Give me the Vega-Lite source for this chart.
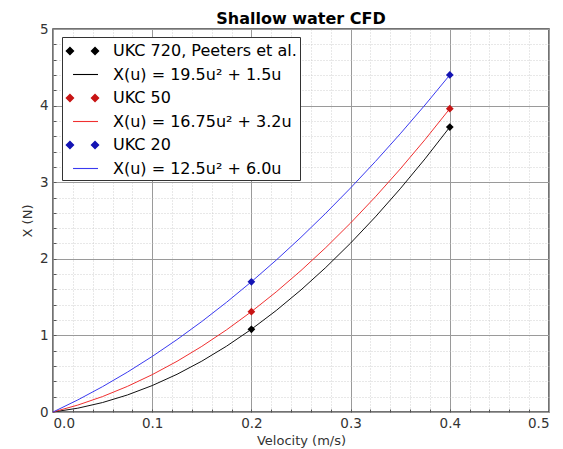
{
  "$schema": "https://vega.github.io/schema/vega-lite/v6.json",
  "width": 496,
  "height": 383,
  "autosize": "none",
  "padding": {"left": 53, "top": 29, "right": 14, "bottom": 37},
  "title": {"text": "Shallow water CFD", "fontSize": 16, "fontWeight": "bold", "font": "DejaVu Sans", "color": "#000", "offset": -5},
  "config": {
    "view": {"stroke": "#444", "strokeWidth": 1.5},
    "font": "DejaVu Sans"
  },
  "datasets": {
    "curves": [
      {"u": 0, "X": 0, "s": "X(u) = 19.5u² + 1.5u"},
      {"u": 0.025, "X": 0.0497, "s": "X(u) = 19.5u² + 1.5u"},
      {"u": 0.05, "X": 0.1238, "s": "X(u) = 19.5u² + 1.5u"},
      {"u": 0.075, "X": 0.2222, "s": "X(u) = 19.5u² + 1.5u"},
      {"u": 0.1, "X": 0.345, "s": "X(u) = 19.5u² + 1.5u"},
      {"u": 0.125, "X": 0.4922, "s": "X(u) = 19.5u² + 1.5u"},
      {"u": 0.15, "X": 0.6638, "s": "X(u) = 19.5u² + 1.5u"},
      {"u": 0.175, "X": 0.8597, "s": "X(u) = 19.5u² + 1.5u"},
      {"u": 0.2, "X": 1.08, "s": "X(u) = 19.5u² + 1.5u"},
      {"u": 0.225, "X": 1.3247, "s": "X(u) = 19.5u² + 1.5u"},
      {"u": 0.25, "X": 1.5938, "s": "X(u) = 19.5u² + 1.5u"},
      {"u": 0.275, "X": 1.8872, "s": "X(u) = 19.5u² + 1.5u"},
      {"u": 0.3, "X": 2.205, "s": "X(u) = 19.5u² + 1.5u"},
      {"u": 0.325, "X": 2.5472, "s": "X(u) = 19.5u² + 1.5u"},
      {"u": 0.35, "X": 2.9138, "s": "X(u) = 19.5u² + 1.5u"},
      {"u": 0.375, "X": 3.3047, "s": "X(u) = 19.5u² + 1.5u"},
      {"u": 0.4, "X": 3.72, "s": "X(u) = 19.5u² + 1.5u"},
      {"u": 0, "X": 0, "s": "X(u) = 16.75u² + 3.2u"},
      {"u": 0.025, "X": 0.0905, "s": "X(u) = 16.75u² + 3.2u"},
      {"u": 0.05, "X": 0.2019, "s": "X(u) = 16.75u² + 3.2u"},
      {"u": 0.075, "X": 0.3342, "s": "X(u) = 16.75u² + 3.2u"},
      {"u": 0.1, "X": 0.4875, "s": "X(u) = 16.75u² + 3.2u"},
      {"u": 0.125, "X": 0.6617, "s": "X(u) = 16.75u² + 3.2u"},
      {"u": 0.15, "X": 0.8569, "s": "X(u) = 16.75u² + 3.2u"},
      {"u": 0.175, "X": 1.073, "s": "X(u) = 16.75u² + 3.2u"},
      {"u": 0.2, "X": 1.31, "s": "X(u) = 16.75u² + 3.2u"},
      {"u": 0.225, "X": 1.568, "s": "X(u) = 16.75u² + 3.2u"},
      {"u": 0.25, "X": 1.8469, "s": "X(u) = 16.75u² + 3.2u"},
      {"u": 0.275, "X": 2.1467, "s": "X(u) = 16.75u² + 3.2u"},
      {"u": 0.3, "X": 2.4675, "s": "X(u) = 16.75u² + 3.2u"},
      {"u": 0.325, "X": 2.8092, "s": "X(u) = 16.75u² + 3.2u"},
      {"u": 0.35, "X": 3.1719, "s": "X(u) = 16.75u² + 3.2u"},
      {"u": 0.375, "X": 3.5555, "s": "X(u) = 16.75u² + 3.2u"},
      {"u": 0.4, "X": 3.96, "s": "X(u) = 16.75u² + 3.2u"},
      {"u": 0, "X": 0, "s": "X(u) = 12.5u² + 6.0u"},
      {"u": 0.025, "X": 0.1578, "s": "X(u) = 12.5u² + 6.0u"},
      {"u": 0.05, "X": 0.3313, "s": "X(u) = 12.5u² + 6.0u"},
      {"u": 0.075, "X": 0.5203, "s": "X(u) = 12.5u² + 6.0u"},
      {"u": 0.1, "X": 0.725, "s": "X(u) = 12.5u² + 6.0u"},
      {"u": 0.125, "X": 0.9453, "s": "X(u) = 12.5u² + 6.0u"},
      {"u": 0.15, "X": 1.1813, "s": "X(u) = 12.5u² + 6.0u"},
      {"u": 0.175, "X": 1.4328, "s": "X(u) = 12.5u² + 6.0u"},
      {"u": 0.2, "X": 1.7, "s": "X(u) = 12.5u² + 6.0u"},
      {"u": 0.225, "X": 1.9828, "s": "X(u) = 12.5u² + 6.0u"},
      {"u": 0.25, "X": 2.2813, "s": "X(u) = 12.5u² + 6.0u"},
      {"u": 0.275, "X": 2.5953, "s": "X(u) = 12.5u² + 6.0u"},
      {"u": 0.3, "X": 2.925, "s": "X(u) = 12.5u² + 6.0u"},
      {"u": 0.325, "X": 3.2703, "s": "X(u) = 12.5u² + 6.0u"},
      {"u": 0.35, "X": 3.6313, "s": "X(u) = 12.5u² + 6.0u"},
      {"u": 0.375, "X": 4.0078, "s": "X(u) = 12.5u² + 6.0u"},
      {"u": 0.4, "X": 4.4, "s": "X(u) = 12.5u² + 6.0u"}
    ],
    "points": [
      {"u": 0.2, "X": 1.08, "s": "UKC 720, Peeters et al."},
      {"u": 0.4, "X": 3.72, "s": "UKC 720, Peeters et al."},
      {"u": 0.2, "X": 1.31, "s": "UKC 50"},
      {"u": 0.4, "X": 3.96, "s": "UKC 50"},
      {"u": 0.2, "X": 1.7, "s": "UKC 20"},
      {"u": 0.4, "X": 4.4, "s": "UKC 20"}
    ]
  },
  "resolve": {"axis": {"x": "independent", "y": "independent"}},
  "layer": [
    {
      "data": {"name": "curves"},
      "mark": {"type": "point", "opacity": 0},
      "encoding": {
        "x": {"field": "u", "type": "quantitative", "scale": {"domain": [0, 0.5], "nice": false, "zero": false},
          "axis": {"orient": "bottom", "values": [0.02,0.04,0.06,0.08,0.1,0.12,0.14,0.16,0.18,0.2,0.22,0.24,0.26,0.28,0.3,0.32,0.34,0.36,0.38,0.4,0.42,0.44,0.46,0.48],
            "labels": false, "ticks": true, "tickSize": -3, "tickColor": "#555", "domain": false, "title": null,
            "grid": true, "gridColor": "#c4c4c4", "gridDash": [1, 2], "gridWidth": 0.8}},
        "y": {"field": "X", "type": "quantitative", "scale": {"domain": [0, 5], "nice": false, "zero": false},
          "axis": {"orient": "left", "values": [0.2,0.4,0.6,0.8,1,1.2,1.4,1.6,1.8,2,2.2,2.4,2.6,2.8,3,3.2,3.4,3.6,3.8,4,4.2,4.4,4.6,4.8],
            "labels": false, "ticks": true, "tickSize": -3, "tickColor": "#555", "domain": false, "title": null,
            "grid": true, "gridColor": "#c4c4c4", "gridDash": [1, 2], "gridWidth": 0.8}}
      }
    },
    {
      "data": {"name": "curves"},
      "mark": {"type": "line", "strokeWidth": 1},
      "encoding": {
        "x": {"field": "u", "type": "quantitative",
          "axis": {"orient": "bottom", "values": [0, 0.1, 0.2, 0.3, 0.4, 0.5], "format": ".1f",
            "labelFontSize": 13.5, "labelColor": "#333", "ticks": false, "labelPadding": 4,
            "domain": false, "grid": true, "gridColor": "#9a9a9a", "gridWidth": 1,
            "title": "Velocity (m/s)", "titleFontSize": 13, "titleFontWeight": "normal", "titleColor": "#333", "titlePadding": 5}},
        "y": {"field": "X", "type": "quantitative",
          "axis": {"orient": "left", "values": [0, 1, 2, 3, 4, 5], "format": "d",
            "labelFontSize": 13.5, "labelColor": "#333", "ticks": false, "labelPadding": 5,
            "domain": false, "grid": true, "gridColor": "#9a9a9a", "gridWidth": 1,
            "title": "X (N)", "titleFontSize": 13, "titleFontWeight": "normal", "titleColor": "#333", "titlePadding": 5}},
        "stroke": {"field": "s", "type": "nominal", "legend": null,
          "scale": {"domain": ["X(u) = 19.5u² + 1.5u", "X(u) = 16.75u² + 3.2u", "X(u) = 12.5u² + 6.0u"],
            "range": ["#111111", "#f03030", "#3a3af0"]}},
        "detail": {"field": "s"}
      }
    },
    {
      "data": {"name": "points"},
      "mark": {"type": "point", "shape": "diamond", "filled": true, "size": 60, "opacity": 1},
      "encoding": {
        "x": {"field": "u", "type": "quantitative", "axis": null},
        "y": {"field": "X", "type": "quantitative", "axis": null},
        "color": {"field": "s", "type": "nominal", "legend": null,
          "scale": {"domain": ["UKC 720, Peeters et al.", "UKC 50", "UKC 20"],
            "range": ["#000000", "#c81414", "#1414b4"]}}
      }
    },
    {
      "data": {"name": "points"},
      "mark": {"type": "point", "filled": true, "opacity": 0},
      "encoding": {
        "x": {"field": "u", "type": "quantitative", "axis": null},
        "y": {"field": "X", "type": "quantitative", "axis": null},
        "fill": {"field": "s", "type": "nominal",
          "scale": {"domain": ["UKC 720, Peeters et al.", "X(u) = 19.5u² + 1.5u", "UKC 50", "X(u) = 16.75u² + 3.2u", "UKC 20", "X(u) = 12.5u² + 6.0u"],
            "range": ["#000000", "#000000", "#c81414", "#f03030", "#1414b4", "#3a3af0"]},
          "legend": {"orient": "none", "legendX": 9, "legendY": 8, "title": null, "padding": 3,
            "strokeColor": "#333", "fillColor": "#ffffff", "labelFontSize": 16, "labelFont": "DejaVu Sans", "labelLimit": 300,
            "labelColor": "#000", "symbolSize": 484, "rowPadding": 4.5, "labelOffset": 26, "symbolStrokeWidth": 0, "symbolOpacity": 1,
            "encode": {"symbols": {"update": {"opacity": {"value": 1}, "fillOpacity": {"value": 1}}}}}},
        "shape": {"field": "s", "type": "nominal",
          "scale": {"domain": ["UKC 720, Peeters et al.", "X(u) = 19.5u² + 1.5u", "UKC 50", "X(u) = 16.75u² + 3.2u", "UKC 20", "X(u) = 12.5u² + 6.0u"],
            "range": [
              "M-0.96,0L-0.55,-0.41L-0.14,0L-0.55,0.41Z M1.32,0L1.73,-0.41L2.14,0L1.73,0.41Z",
              "M-0.27,-0.05H2.0V0.05H-0.27Z",
              "M-0.96,0L-0.55,-0.41L-0.14,0L-0.55,0.41Z M1.32,0L1.73,-0.41L2.14,0L1.73,0.41Z",
              "M-0.27,-0.05H2.0V0.05H-0.27Z",
              "M-0.96,0L-0.55,-0.41L-0.14,0L-0.55,0.41Z M1.32,0L1.73,-0.41L2.14,0L1.73,0.41Z",
              "M-0.27,-0.05H2.0V0.05H-0.27Z"
            ]}}
      }
    }
  ]
}
